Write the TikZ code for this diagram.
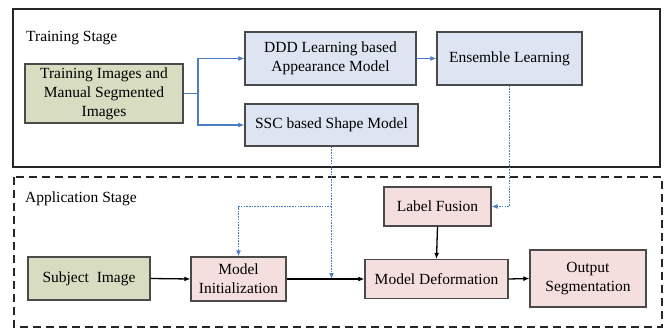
\documentclass[tikz,border=0pt]{standalone}
\usepackage{fontspec}
\setmainfont{Liberation Serif}
\usetikzlibrary{arrows.meta}
\definecolor{gfill}{HTML}{D8DCC0}
\definecolor{bfill}{HTML}{DCE5F1}
\definecolor{pfill}{HTML}{F4DEDE}
\definecolor{bordc}{HTML}{4A4A4A}
\definecolor{conb}{HTML}{4A7EC2}
\tikzset{
  box/.style={draw=bordc, line width=1.3pt, inner sep=0pt, align=center,
    font=\fontsize{15.5}{19}\selectfont},
  gbox/.style={box, fill=gfill},
  bbox/.style={box, fill=bfill},
  pbox/.style={box, fill=pfill},
  bluecon/.style={draw=conb, line width=1.5pt, -{Latex[length=6pt,width=5pt]}},
  bluedot/.style={draw=conb, line width=1.6pt, dash pattern=on 1.6pt off 1.1pt},
  blackcon/.style={draw=black, line width=1.3pt, -{Latex[length=6pt,width=5pt]}},
  stagelabel/.style={anchor=west, inner sep=0pt, font=\fontsize{15.5}{19}\selectfont}
}
\begin{document}
\begin{tikzpicture}[x=1pt,y=-1pt]
\useasboundingbox (0,0) rectangle (665,329);
% frames
\draw[line width=1.8pt, draw=black!85] (13,9) rectangle (660,167);
\draw[line width=2.2pt, draw=black!85, dash pattern=on 8pt off 5pt] (14,177) rectangle (662,327);
\node[stagelabel] (ts) at (26,38) {Training Stage};
\node[stagelabel] (as) at (25,199) {Application Stage};
% training nodes
\node[gbox, minimum width=158pt, minimum height=59pt] (train) at (104,93.5) {Training Images and\\Manual Segmented\\Images};
\node[bbox, minimum width=171pt, minimum height=53pt] (ddd) at (330.5,58.5) {DDD Learning based\\Appearance Model};
\node[bbox, minimum width=173pt, minimum height=42pt] (ssc) at (331.5,125) {SSC based Shape Model};
\node[bbox, minimum width=145pt, minimum height=53pt] (ens) at (509.5,58.5) {Ensemble Learning};
% application nodes
\node[pbox, minimum width=107pt, minimum height=39pt] (lf) at (437.5,206.5) {Label Fusion};
\node[gbox, minimum width=122pt, minimum height=43pt] (subj) at (89,278.5) {Subject\ \ Image};
\node[pbox, minimum width=95pt, minimum height=44pt] (init) at (238.5,279) {Model\\Initialization};
\node[pbox, minimum width=143pt, minimum height=39pt] (def) at (436.5,279) {Model Deformation};
\node[pbox, minimum width=116pt, minimum height=57pt] (out) at (588,278.5) {Output\\Segmentation};
% blue connectors
\coordinate (br) at (198,93.5);
\draw[draw=conb, line width=1.5pt] (train.east) -- (br);
\draw[bluecon] (br) |- (ddd.west);
\draw[bluecon] (br) |- (ssc.west);
\draw[bluecon] (ddd.east) -- (ens.west);
% dotted connectors
\draw[bluedot, -{Latex[length=6pt,width=5pt]}] (ens.south) |- (lf.east);
\coordinate (j) at (ssc.south |- init.east);
\coordinate (k) at (ssc.south |- lf.east);
\draw[bluedot, -{Latex[length=6pt,width=5pt]}] (ssc.south) -- (j);
\draw[bluedot, -{Latex[length=6pt,width=5pt]}] (k) -| (init.north);
% black connectors
\draw[blackcon] (subj.east) -- (init.west);
\draw[blackcon] (init.east) -- (def.west);
\draw[blackcon] (lf.south) -- (def.north);
\draw[blackcon] (def.east) -- (out.west);
\end{tikzpicture}
\end{document}
